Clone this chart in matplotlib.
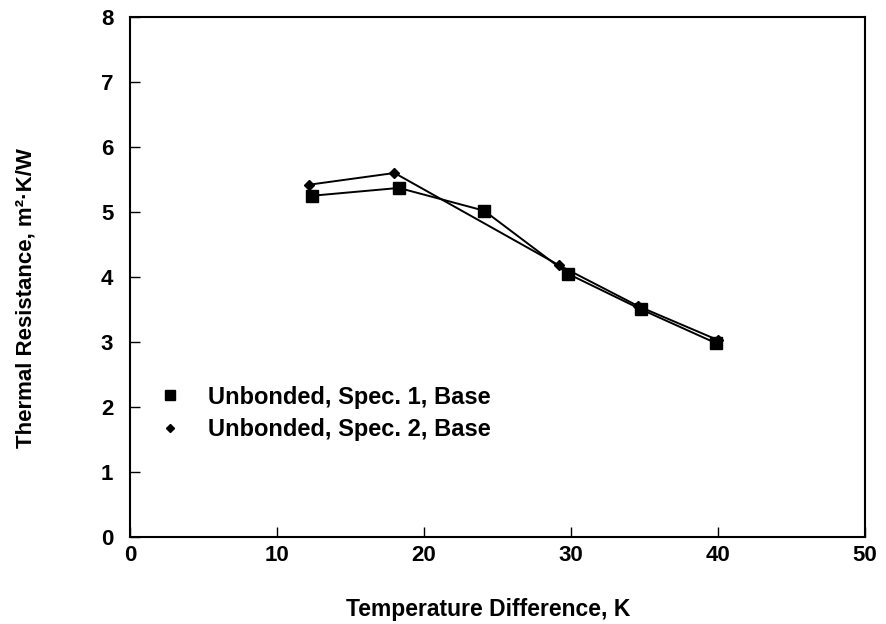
import matplotlib
matplotlib.use("Agg")
import matplotlib.pyplot as plt
from matplotlib.lines import Line2D

plt.rcParams['font.family'] = ['Liberation Sans', 'DejaVu Sans']

# Unbonded, Spec. 1, Base (squares)
spec1_dt = [12.4, 18.3, 24.1, 29.8, 34.8, 39.9]
spec1_r = [5.25, 5.37, 5.02, 4.05, 3.50, 2.98]

# Unbonded, Spec. 2, Base (diamonds)
spec2_dt = [12.2, 18.0, 29.2, 34.6, 40.0]
spec2_r = [5.42, 5.60, 4.18, 3.55, 3.03]

labels = ['Unbonded, Spec. 1, Base', 'Unbonded, Spec. 2, Base']

fig = plt.figure(figsize=(8.86, 6.24), dpi=100)
ax = fig.add_axes([0.1467, 0.1394, 0.8293, 0.8334])

ax.plot(spec1_dt, spec1_r, color='black', lw=1.4, marker='s', ms=8)
ax.plot(spec2_dt, spec2_r, color='black', lw=1.4, marker='D', ms=5.5)

ax.set_xlim(0, 50)
ax.set_ylim(0, 8)
ax.set_xticks([0, 10, 20, 30, 40, 50])
ax.set_yticks(range(0, 9))
ax.tick_params(direction='in', length=7, width=1, labelsize=16,
               top=False, right=False)
ax.tick_params(axis='x', pad=6)
ax.tick_params(axis='y', pad=12)
for lbl in ax.get_xticklabels() + ax.get_yticklabels():
    lbl.set_fontweight('bold')
for sp in ax.spines.values():
    sp.set_linewidth(1.5)

ax.set_xlabel('Temperature Difference, K', fontsize=16.5, fontweight='bold')
ax.set_ylabel('Thermal Resistance, m²·K/W', fontsize=16, fontweight='bold')
ax.xaxis.set_label_coords(0.487, -0.117)
ax.yaxis.set_label_coords(-0.127, 0.46)

handles = [Line2D([], [], ls='none', marker='s', color='black', ms=7),
           Line2D([], [], ls='none', marker='D', color='black', ms=4.5)]
ax.legend(handles, labels, loc='center left', bbox_to_anchor=(0.006, 0.238),
          frameon=False, handlelength=1.2, handletextpad=1.0,
          labelspacing=0.4, prop={'weight': 'bold', 'size': 17})

fig.savefig('out.png', dpi=100)
